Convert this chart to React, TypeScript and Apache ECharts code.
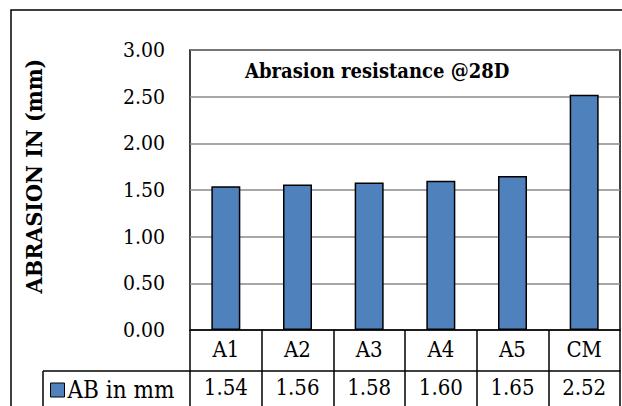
import React, { useEffect, useRef } from "react";
import * as echarts from "echarts";

const categories = ["A1", "A2", "A3", "A4", "A5", "CM"];
const abValues = [1.54, 1.56, 1.58, 1.6, 1.65, 2.52];
const seriesName = "AB in mm";
const chartTitle = "Abrasion resistance @28D";
const yTitle = "ABRASION IN (mm)";
const yMin = 0;
const yMax = 3;
const yStep = 0.5;

const FONT = "DejaVu Serif Condensed, DejaVu Serif";

export default function App() {
  const ref = useRef<HTMLDivElement>(null);
  useEffect(() => {
    if (!ref.current) return;
    const chart = echarts.init(ref.current, undefined, { renderer: "svg" });
    chart.setOption({
      animation: false,
      backgroundColor: "#ffffff",
      title: {
        text: chartTitle,
        left: 245,
        top: 61,
        padding: 0,
        textStyle: { fontFamily: FONT, fontSize: 20, fontWeight: "bold", color: "#000" },
      },
      legend: {
        data: [{ name: seriesName, icon: "rect" }],
        left: 50,
        top: 378,
        padding: 0,
        itemWidth: 14,
        itemHeight: 14,
        itemGap: 0,
        itemStyle: { borderColor: "#000", borderWidth: 1 },
        textStyle: { fontFamily: FONT, fontSize: 24, color: "#000", padding: [0, 0, 0, -2] },
        selectedMode: false,
      },
      grid: {
        left: 190,
        top: 50,
        right: 2,
        height: 283.5,
        show: true,
        borderColor: "#000",
        borderWidth: 1.5,
        backgroundColor: "transparent",
      },
      xAxis: {
        type: "category",
        data: categories,
        boundaryGap: true,
        axisLine: { show: true, lineStyle: { color: "#000", width: 1.5 } },
        axisTick: { show: true, length: 76, alignWithLabel: false, lineStyle: { color: "#000", width: 1.5 } },
        axisLabel: {
          margin: 0,
          interval: 0,
          fontFamily: FONT,
          formatter: (v: string, i: number) => `{c|${v}}\n{v|${abValues[i].toFixed(2)}}`,
          rich: {
            c: { fontFamily: FONT, fontSize: 22, color: "#000", lineHeight: 38, height: 38 },
            v: { fontFamily: FONT, fontSize: 22, color: "#000", lineHeight: 38, height: 38 },
          },
        },
        splitLine: { show: false },
      },
      yAxis: {
        type: "value",
        min: yMin,
        max: yMax,
        interval: yStep,
        axisLine: { show: false },
        axisTick: { show: false },
        axisLabel: {
          margin: 25,
          fontFamily: FONT,
          fontSize: 21,
          color: "#000",
          formatter: (v: number) => v.toFixed(2),
        },
        splitLine: { show: true, lineStyle: { color: "#8a8a8a", width: 1.5 } },
      },
      series: [
        {
          name: seriesName,
          type: "bar",
          data: abValues,
          barWidth: 29,
          itemStyle: { color: "#4F81BD", borderColor: "#000", borderWidth: 1.5 },
        },
      ],
      graphic: [
        {
          type: "rect",
          shape: { x: 11, y: 10, width: 700, height: 500 },
          style: { fill: "none", stroke: "#000", lineWidth: 1.5 },
          z: 100,
        },
        {
          type: "line",
          shape: { x1: 43, y1: 371, x2: 620.5, y2: 371 },
          style: { stroke: "#000", lineWidth: 1.5 },
          z: 100,
        },
        {
          type: "line",
          shape: { x1: 43, y1: 371, x2: 43, y2: 420 },
          style: { stroke: "#000", lineWidth: 1.5 },
          z: 100,
        },
        {
          type: "text",
          x: 33,
          y: 176,
          rotation: Math.PI / 2,
          style: {
            text: yTitle,
            fontFamily: FONT,
            fontSize: 23,
            fontWeight: "bold",
            fill: "#000",
            align: "center",
            verticalAlign: "middle",
          },
          z: 100,
        },
      ],
    });
    return () => chart.dispose();
  }, []);
  return <div ref={ref} style={{ width: 622, height: 406, position: "absolute", left: 0, top: 0 }} />;
}
